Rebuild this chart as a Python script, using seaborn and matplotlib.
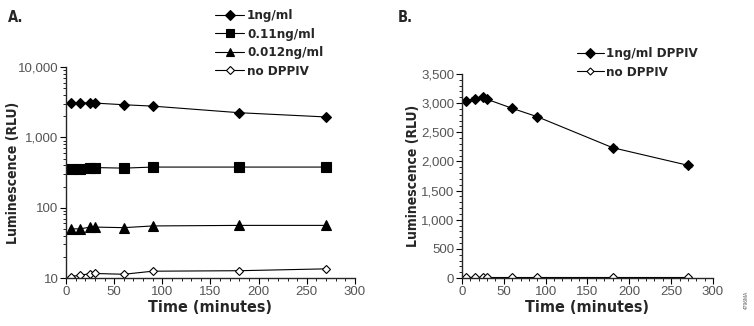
import matplotlib
matplotlib.use("Agg")
import matplotlib.pyplot as plt
import matplotlib.ticker as mticker
import seaborn as sns
import numpy as np
import pandas as pd

# ---- data ----
time_min = [5, 15, 25, 30, 60, 90, 180, 270]
a_1ng = [3040, 3080, 3100, 3070, 2910, 2780, 2240, 1950]
a_011ng = [355, 358, 372, 372, 365, 378, 378, 378]
a_0012ng = [50, 50, 53, 53, 52, 55, 56, 56]
a_none = [10.5, 11, 11.5, 11.6, 11.3, 12.5, 12.7, 13.5]
a_labels = ["1ng/ml", "0.11ng/ml", "0.012ng/ml", "no DPPIV"]

b_1ng = [3037, 3076, 3105, 3066, 2911, 2767, 2236, 1934]
b_1ng_err = [25, 25, 25, 25, 25, 25, 25, 30]
b_none = [12, 12, 12, 12, 12, 12, 12, 12]
b_labels = ["1ng/ml DPPIV", "no DPPIV"]

sns.set_theme(style="ticks")
BOLD_FAM = ["Liberation Sans Narrow", "DejaVu Sans"]
TICK_FAM = ["Liberation Sans", "DejaVu Sans"]
plt.rcParams["font.family"] = BOLD_FAM
plt.rcParams["axes.linewidth"] = 1.0

xlab_font = {"family": BOLD_FAM, "size": 11.5, "weight": "bold", "stretch": "condensed"}
ylab_font = {"family": BOLD_FAM, "size": 10, "weight": "bold", "stretch": "condensed"}
leg_prop = {"family": BOLD_FAM, "size": 9.5, "weight": "bold", "stretch": "condensed"}

fig = plt.figure(figsize=(7.54, 3.26), dpi=100)
axA = fig.add_axes([0.0875, 0.1472, 0.3833, 0.6472])
axB = fig.add_axes([0.6127, 0.1472, 0.3329, 0.6258])

# ---- Panel A ----
styles = [
    dict(marker="D", markersize=5.5, markerfacecolor="black"),
    dict(marker="s", markersize=7.5, markerfacecolor="black"),
    dict(marker="^", markersize=7, markerfacecolor="black"),
    dict(marker="D", markersize=4.5, markerfacecolor="white"),
]
for vals, lab, st in zip([a_1ng, a_011ng, a_0012ng, a_none], a_labels, styles):
    df = pd.DataFrame({"t": time_min, "v": vals})
    sns.lineplot(data=df, x="t", y="v", ax=axA, color="black", linewidth=0.8,
                 markeredgecolor="black", markeredgewidth=0.8, label=lab, **st)

axA.set_yscale("log")
axA.set_xlim(0, 300)
axA.set_ylim(10, 10000)
axA.yaxis.set_major_locator(mticker.FixedLocator([10, 100, 1000, 10000]))
axA.yaxis.set_major_formatter(mticker.FuncFormatter(lambda v, p: f"{int(v):,}"))
axA.yaxis.set_minor_locator(mticker.LogLocator(base=10, subs=np.arange(2, 10)))
axA.yaxis.set_minor_formatter(mticker.NullFormatter())
axA.xaxis.set_major_locator(mticker.MultipleLocator(50))
axA.xaxis.set_minor_locator(mticker.MultipleLocator(10))
axA.set_xlabel("Time (minutes)", fontdict=xlab_font, labelpad=2)
axA.set_ylabel("Luminescence (RLU)", fontdict=ylab_font)
axA.yaxis.set_label_coords((20 - 66) / 289, 0.5)
axA.legend(loc="upper left", bbox_to_anchor=(210 / 754, 1 - 4 / 326),
           bbox_transform=fig.transFigure, frameon=False, handlelength=2.2,
           handletextpad=0.2, labelspacing=0.42, borderaxespad=0, prop=leg_prop,
           markerscale=0.85)

# ---- Panel B ----
dfb = pd.DataFrame({"t": time_min, "v": b_1ng})
sns.lineplot(data=dfb, x="t", y="v", ax=axB, color="black", linewidth=0.8,
             marker="D", markersize=5.5, markerfacecolor="black",
             markeredgecolor="black", label=b_labels[0])
axB.errorbar(time_min, b_1ng, yerr=b_1ng_err, fmt="none", ecolor="#3a3aa8",
             elinewidth=0.8, capsize=3, capthick=0.8, zorder=1)
dfn = pd.DataFrame({"t": time_min, "v": b_none})
sns.lineplot(data=dfn, x="t", y="v", ax=axB, color="black", linewidth=0.8,
             marker="D", markersize=4.2, markerfacecolor="white",
             markeredgecolor="black", markeredgewidth=0.8, label=b_labels[1])
axB.set_xlim(0, 300)
axB.set_ylim(0, 3500)
axB.yaxis.set_major_locator(mticker.MultipleLocator(500))
axB.yaxis.set_minor_locator(mticker.MultipleLocator(100))
axB.yaxis.set_major_formatter(mticker.FuncFormatter(lambda v, p: f"{int(v):,}"))
axB.xaxis.set_major_locator(mticker.MultipleLocator(50))
axB.xaxis.set_minor_locator(mticker.MultipleLocator(10))
axB.set_xlabel("Time (minutes)", fontdict=xlab_font, labelpad=2)
axB.set_ylabel("Luminescence (RLU)", fontdict=ylab_font)
axB.yaxis.set_label_coords((420 - 462) / 251, 0.5)
axB.legend(loc="upper left", bbox_to_anchor=(572 / 754, 1 - 42 / 326),
           bbox_transform=fig.transFigure, frameon=False, handlelength=2.0,
           handletextpad=0.2, labelspacing=0.42, borderaxespad=0, prop=leg_prop,
           markerscale=0.85)

for ax in (axA, axB):
    sns.despine(ax=ax)
    ax.tick_params(axis="both", which="major", length=4, width=0.8, direction="out",
                   colors="black", labelcolor="#555555", labelsize=9.5, pad=1.5)
    ax.tick_params(axis="both", which="minor", length=2.5, width=0.6, direction="out",
                   colors="black")
    for t in ax.get_xticklabels() + ax.get_yticklabels():
        t.set_fontfamily(TICK_FAM)
    ax.set_facecolor("white")

fig.text(8 / 754, 1 - 17 / 326, "A.", fontsize=10.5, fontweight="bold", va="center",
         family=BOLD_FAM, fontstretch="condensed")
fig.text(398 / 754, 1 - 17 / 326, "B.", fontsize=10.5, fontweight="bold", va="center",
         family=BOLD_FAM, fontstretch="condensed")
fig.text(746 / 754, 1 - 300 / 326, "4796MA", fontsize=3.5, rotation=90, ha="center",
         va="center", color="#555555", family=TICK_FAM)

fig.savefig("out.png", dpi=100, facecolor="white")
